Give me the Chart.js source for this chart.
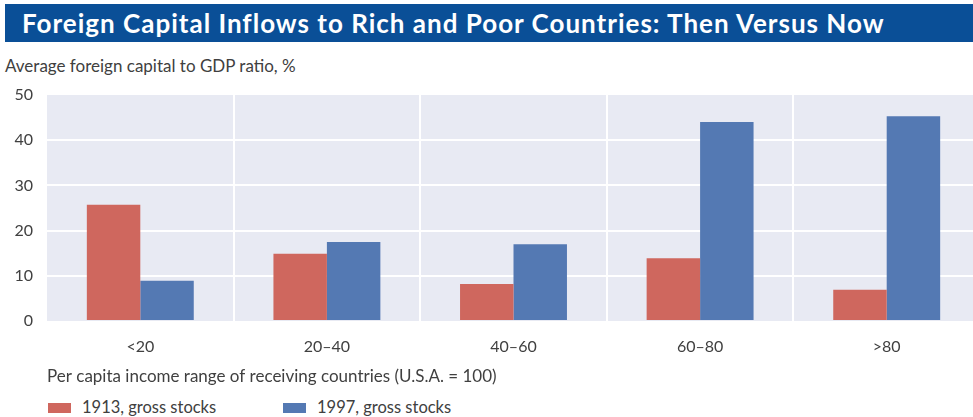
<!DOCTYPE html>
<html lang="en">
<head>
    <meta charset="UTF-8">
    <title>Foreign Capital Inflows to Rich and Poor Countries: Then Versus Now</title>
    <script src="https://cdn.jsdelivr.net/npm/chart.js"></script>
    <style>
        body {
            margin: 0;
            width: 973px;
            height: 417px;
            overflow: hidden;
            background: #fff;
            font-family: Lato, "Open Sans", sans-serif;
            color: #404040;
            position: relative;
        }
        .titulo {
            position: absolute;
            left: 5px;
            top: 4px;
            width: 968px;
            height: 38px;
            background: #0a4f97;
            color: #fff;
            font-weight: bold;
            font-size: 26px;
            letter-spacing: 1px;
            line-height: 38px;
            padding-left: 17px;
            box-sizing: border-box;
            white-space: nowrap;
        }
        .ylabel {
            position: absolute;
            left: 5px;
            top: 55px;
            font-size: 17px;
            white-space: nowrap;
        }
        #grafico {
            position: absolute;
            left: 0;
            top: 80px;
        }
        .legenda span.caixa {
            position: absolute;
            width: 23px;
            height: 10px;
        }
        .legenda span.texto {
            position: absolute;
            font-size: 16.5px;
            line-height: 20px;
            white-space: nowrap;
        }
    </style>
</head>
<body>
    <div class="titulo">Foreign Capital Inflows to Rich and Poor Countries: Then Versus Now</div>
    <div class="ylabel">Average foreign capital to GDP ratio, %</div>
    <canvas id="grafico" width="980" height="311"></canvas>
    <div class="legenda" id="legenda"></div>

    <script>
        // Dados
        const categorias = ['<20', '20\u201340', '40\u201360', '60\u201380', '>80'];
        const valores1913 = [25.7, 14.9, 8.2, 13.9, 6.9];
        const valores1997 = [8.9, 17.5, 17.0, 44.0, 45.3];
        const series = ['1913, gross stocks', '1997, gross stocks'];
        const cores = ['#cf675e', '#5479b3'];
        const ticksY = [0, 10, 20, 30, 40, 50];

        // fundo lilás da área do gráfico
        const fundo = {
            id: 'fundo',
            beforeDraw(chart) {
                const a = chart.chartArea;
                const ctx = chart.ctx;
                ctx.save();
                ctx.fillStyle = '#e8eaf3';
                ctx.fillRect(a.left, a.top, a.right - a.left, a.bottom - a.top);
                ctx.restore();
            }
        };

        const ctx = document.getElementById('grafico').getContext('2d');
        new Chart(ctx, {
            type: 'bar',
            data: {
                labels: categorias,
                datasets: [
                    { label: series[0], data: valores1913, backgroundColor: cores[0] },
                    { label: series[1], data: valores1997, backgroundColor: cores[1] }
                ]
            },
            options: {
                responsive: false,
                animation: false,
                devicePixelRatio: 1,
                categoryPercentage: 0.573,
                barPercentage: 1,
                layout: { padding: { top: 15, left: 0, right: 0, bottom: 0 } },
                plugins: {
                    legend: { display: false },
                    tooltip: { enabled: false }
                },
                scales: {
                    x: {
                        grid: {
                            offset: true,
                            drawTicks: false,
                            lineWidth: 2,
                            color: c => c.index === 0 ? 'rgba(0,0,0,0)' : '#ffffff'
                        },
                        border: { display: false },
                        ticks: {
                            padding: 16,
                            color: '#404040',
                            font: { family: 'Lato', size: 16 }
                        },
                        title: {
                            display: true,
                            text: 'Per capita income range of receiving countries (U.S.A. = 100)',
                            align: 'start',
                            color: '#404040',
                            font: { family: 'Lato', size: 17 },
                            padding: { top: 0, bottom: 4 }
                        },
                        afterFit: s => { s.height = 70; s.paddingLeft = 0; s.paddingRight = 0; }
                    },
                    y: {
                        min: 0,
                        max: 50,
                        afterBuildTicks: s => { s.ticks = ticksY.map(v => ({ value: v })); },
                        grid: {
                            drawTicks: false,
                            lineWidth: 2,
                            color: c => (c.tick.value === 0 || c.tick.value === 50) ? 'rgba(0,0,0,0)' : '#ffffff'
                        },
                        border: { display: false },
                        ticks: {
                            padding: 14,
                            color: '#404040',
                            font: { family: 'Lato', size: 16 }
                        },
                        afterFit: s => { s.width = 47; s.paddingTop = 0; s.paddingBottom = 0; }
                    }
                }
            },
            plugins: [fundo]
        });

        // legenda
        const legenda = document.getElementById('legenda');
        const posCaixa = [48, 283];
        series.forEach((nome, i) => {
            const caixa = document.createElement('span');
            caixa.className = 'caixa';
            caixa.style.left = posCaixa[i] + 'px';
            caixa.style.top = '403px';
            caixa.style.background = cores[i];
            const texto = document.createElement('span');
            texto.className = 'texto';
            texto.style.left = (posCaixa[i] + 34) + 'px';
            texto.style.top = '397px';
            texto.textContent = nome;
            legenda.appendChild(caixa);
            legenda.appendChild(texto);
        });
    </script>
</body>
</html>
